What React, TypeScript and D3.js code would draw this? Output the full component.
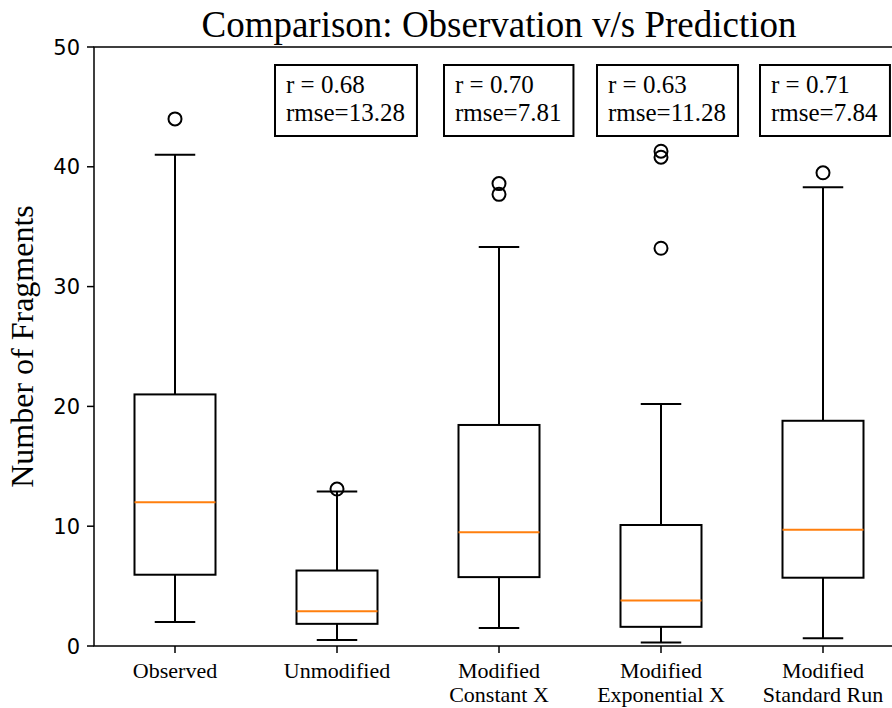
import React, { useLayoutEffect, useRef, useState } from "react";
import * as d3 from "d3";

const categories = ["Observed", "Unmodified", "Modified\nConstant X", "Modified\nExponential X", "Modified\nStandard Run"];
const whiskerLow = [2.0, 0.5, 1.5, 0.3, 0.65];
const q1 = [5.95, 1.85, 5.75, 1.6, 5.7];
const median = [12.0, 2.9, 9.5, 3.8, 9.7];
const q3 = [21.0, 6.3, 18.45, 10.1, 18.8];
const whiskerHigh = [41.0, 12.9, 33.3, 20.2, 38.3];
const outliers = [[44.0], [13.1], [37.7, 38.6], [33.2, 40.8, 41.3], [39.5]];
const rValues = [null, "0.68", "0.70", "0.63", "0.71"];
const rmseValues = [null, "13.28", "7.81", "11.28", "7.84"];
const yTicks = [0, 10, 20, 30, 40, 50];

const W = 892, H = 708;
const L = 94, R = 904, T = 47, B = 646;
const serif = "'Liberation Serif', 'Times New Roman', serif";
const sans = "'DejaVu Sans', sans-serif";
const boxLeftOffsets = [0, -62, -55, -64, -63];

function Annot({ x, r, rmse }: { x: number; r: string; rmse: string }) {
  const ref = useRef<SVGGElement>(null);
  const [w, setW] = useState(130);
  useLayoutEffect(() => {
    if (ref.current) {
      const bb = ref.current.getBBox();
      setW(bb.width + 23);
    }
  }, [r, rmse]);
  return (
    <g>
      <rect x={x} y={65} width={w} height={71} fill="white" stroke="black" strokeWidth={2} />
      <g ref={ref} fontFamily={serif} fontSize={25} fill="black">
        <text x={x + 11} y={93}>{`r = ${r}`}</text>
        <text x={x + 11} y={121}>{`rmse=${rmse}`}</text>
      </g>
    </g>
  );
}

export default function App() {
  const x = d3.scaleLinear().domain([0.5, 5.5]).range([L, R]);
  const y = d3.scaleLinear().domain([0, 50]).range([B, T]);
  const bw = (x(1.25) - x(0.75));
  const cw = (x(1.125) - x(0.875));
  return (
    <svg width={W} height={H} style={{ position: "absolute", left: 0, top: 0, background: "white" }}>
      <rect x={0} y={0} width={W} height={H} fill="white" />
      <text x={(L + R) / 2} y={37} textAnchor="middle" fontFamily={serif} fontSize={37}>
        Comparison: Observation v/s Prediction
      </text>
      <text transform={`translate(33,${(T + B) / 2}) rotate(-90)`} textAnchor="middle" fontFamily={serif} fontSize={32}>
        Number of Fragments
      </text>
      {categories.map((c, i) => {
        const cx = x(i + 1);
        const col = "black";
        return (
          <g key={i}>
            <line x1={cx} x2={cx} y1={y(whiskerLow[i])} y2={y(q1[i])} stroke={col} strokeWidth={2} />
            <line x1={cx} x2={cx} y1={y(q3[i])} y2={y(whiskerHigh[i])} stroke={col} strokeWidth={2} />
            <line x1={cx - cw / 2} x2={cx + cw / 2} y1={y(whiskerLow[i])} y2={y(whiskerLow[i])} stroke={col} strokeWidth={2} />
            <line x1={cx - cw / 2} x2={cx + cw / 2} y1={y(whiskerHigh[i])} y2={y(whiskerHigh[i])} stroke={col} strokeWidth={2} />
            <rect x={cx - bw / 2} y={y(q3[i])} width={bw} height={y(q1[i]) - y(q3[i])} fill="none" stroke={col} strokeWidth={2} />
            <line x1={cx - bw / 2} x2={cx + bw / 2} y1={y(median[i])} y2={y(median[i])} stroke="#ff7f0e" strokeWidth={2} />
            {outliers[i].map((o, j) => (
              <circle key={j} cx={cx} cy={y(o)} r={6.5} fill="none" stroke="black" strokeWidth={2} />
            ))}
            <line x1={cx} x2={cx} y1={B} y2={B + 7} stroke="black" strokeWidth={1.5} />
            {c.split("\n").map((s, k) => (
              <text key={k} x={cx} y={678 + k * 24} textAnchor="middle" fontFamily={serif} fontSize={22}>{s}</text>
            ))}
            {rValues[i] !== null && (
              <Annot x={cx + boxLeftOffsets[i]} r={rValues[i] as string} rmse={rmseValues[i] as string} />
            )}
          </g>
        );
      })}
      {yTicks.map((t) => (
        <g key={t}>
          <line x1={L - 7} x2={L} y1={y(t)} y2={y(t)} stroke="black" strokeWidth={1.5} />
          <text x={L - 14} y={y(t)} dy="0.36em" textAnchor="end" fontFamily={sans} fontSize={21}>{t}</text>
        </g>
      ))}
      <rect x={L} y={T} width={R - L} height={B - T} fill="none" stroke="black" strokeWidth={1.5} />
    </svg>
  );
}
